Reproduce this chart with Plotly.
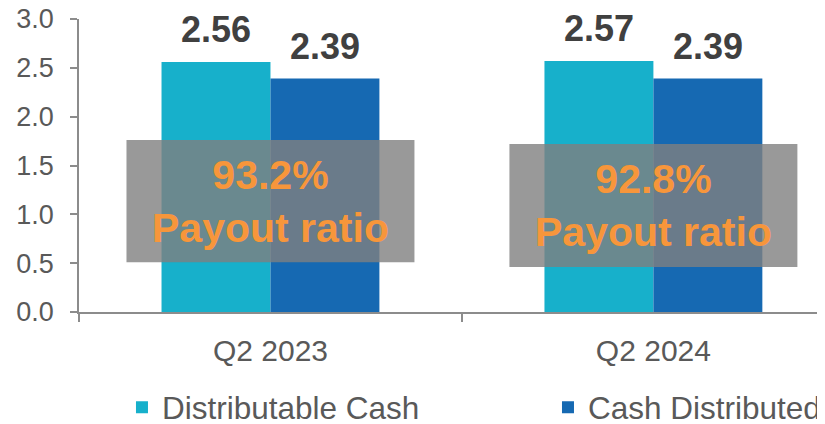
import plotly.graph_objects as go

periods = ["Q2 2023", "Q2 2024"]
distributable_cash = [2.56, 2.57]
cash_distributed = [2.39, 2.39]
payout_ratio = ["93.2%", "92.8%"]
box_low = [0.51, 0.46]
box_high = [1.76, 1.72]

CYAN = "#17B0CB"
BLUE = "#1669B2"
ORANGE = "#F7963B"
AXIS = "#8C8C8C"
TEXT = "#595959"
FONT = "Arial, Liberation Sans, sans-serif"

fig = go.Figure()
fig.add_trace(go.Bar(x=periods, y=distributable_cash, name="Distributable Cash",
                     marker=dict(color=CYAN, line=dict(width=0)), legend="legend"))
fig.add_trace(go.Bar(x=periods, y=cash_distributed, name="Cash Distributed",
                     marker=dict(color=BLUE, line=dict(width=0)), legend="legend2"))

# value labels above bars
for i, p in enumerate(periods):
    for val, dx in [(distributable_cash[i], -0.142), (cash_distributed[i], 0.142)]:
        fig.add_annotation(x=i + dx, y=val, text=f"<b>{val:.2f}</b>", showarrow=False,
                           yanchor="bottom", yshift=10, xref="x", yref="y",
                           font=dict(size=36, color="#404040", family=FONT))

# payout ratio overlay boxes
for i, p in enumerate(periods):
    fig.add_shape(type="rect", xref="x", yref="y", x0=i - 0.376, x1=i + 0.376,
                  y0=box_low[i], y1=box_high[i], line=dict(width=0),
                  fillcolor="rgba(127,127,127,0.8)", layer="above")
    fig.add_annotation(x=i, y=(box_low[i] + box_high[i]) / 2, xref="x", yref="y",
                       text=f"<b>{payout_ratio[i]}<br>Payout ratio</b>", showarrow=False,
                       font=dict(size=41, color=ORANGE, family=FONT))

legend_style = dict(orientation="h", y=-0.325, xanchor="left", yanchor="middle",
                    font=dict(size=31.5, color=TEXT), bgcolor="rgba(0,0,0,0)")

fig.update_layout(
    width=825, height=424,
    margin=dict(l=71, r=0, t=11, b=120, autoexpand=False),
    paper_bgcolor="white", plot_bgcolor="white",
    barmode="group", bargap=0.431, bargroupgap=0,
    font=dict(family=FONT, color=TEXT),
    showlegend=True,
    legend=dict(x=0.057, **legend_style),
    legend2=dict(x=0.622, **legend_style),
    xaxis=dict(type="category", range=[-0.5, 1.469], showline=True, linecolor=AXIS,
               linewidth=1.5, ticks="outside", tickson="boundaries", ticklen=8,
               tickcolor=AXIS, tickwidth=1.5, tickfont=dict(size=30, color=TEXT),
               ticklabelstandoff=11, showgrid=False, zeroline=False),
    yaxis=dict(range=[0, 3.0], dtick=0.5, tickformat=".1f", showline=True,
               linecolor=AXIS, linewidth=1.5, ticks="outside", ticklen=7,
               tickcolor=AXIS, tickwidth=1.5, tickfont=dict(size=27, color=TEXT),
               ticklabelstandoff=11, ticklabeloverflow="allow",
               showgrid=False, zeroline=False),
)

fig.write_html("out.html")
